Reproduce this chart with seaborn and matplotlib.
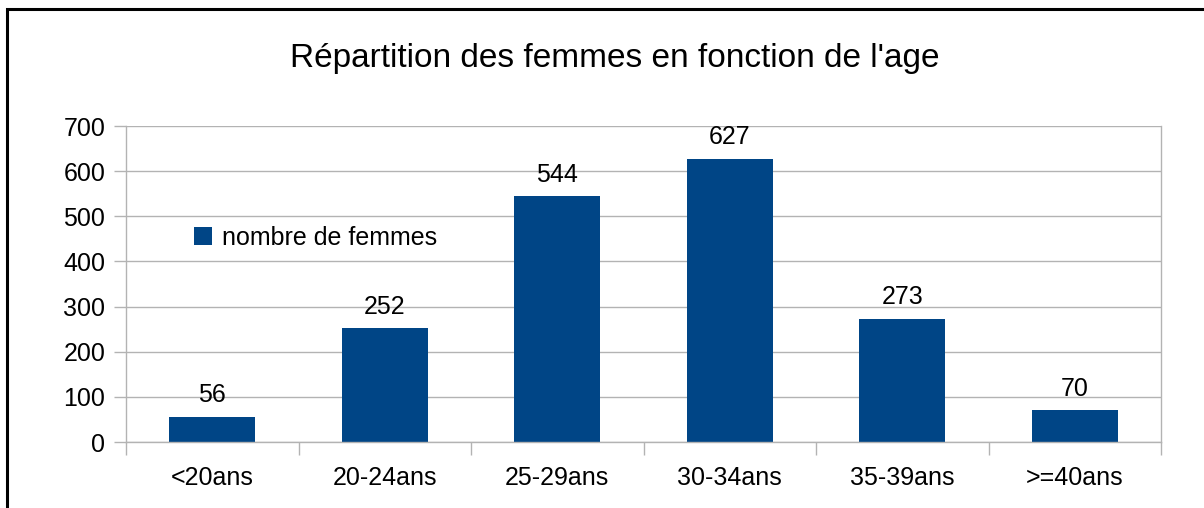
import matplotlib
matplotlib.use("Agg")
import matplotlib.pyplot as plt
import seaborn as sns
import pandas as pd
from matplotlib.patches import Rectangle

categories = ["<20ans", "20-24ans", "25-29ans", "30-34ans", "35-39ans", ">=40ans"]
values = [56, 252, 544, 627, 273, 70]
series_name = "nombre de femmes"
title = "Répartition des femmes en fonction de l'age"

df = pd.DataFrame({"age": categories, "n": values})

sns.set_theme(style="white")
plt.rcParams["font.family"] = ["Liberation Sans", "DejaVu Sans"]
plt.rcParams["text.color"] = "black"
plt.rcParams["xtick.labelcolor"] = "black"
plt.rcParams["ytick.labelcolor"] = "black"

bar_color = "#004586"
grey = "#b3b3b3"
fs = 18

fig = plt.figure(figsize=(12.04, 5.08), dpi=100)
ax = fig.add_axes([126 / 1204, 1 - 442 / 508, 1035 / 1204, 316 / 508])

sns.barplot(data=df, x="age", y="n", color=bar_color, width=0.5,
            saturation=1, label=series_name, linewidth=0, ax=ax)

ax.set_ylim(0, 700)
ax.set_xlim(-0.5, len(categories) - 0.5)
ax.set_yticks(range(0, 701, 100))
ax.yaxis.grid(True, color=grey, linewidth=1)
ax.set_axisbelow(True)
ax.set_xlabel("")
ax.set_ylabel("")

for side in ["left", "bottom", "right"]:
    ax.spines[side].set_visible(True)
    ax.spines[side].set_color(grey)
    ax.spines[side].set_linewidth(1)
ax.spines["top"].set_visible(False)

# ticks between categories
ax.set_xticks([i - 0.5 for i in range(len(categories) + 1)], minor=True)
ax.tick_params(axis="x", which="minor", length=9, width=1, color=grey, bottom=True)
ax.tick_params(axis="x", which="major", length=0, labelsize=fs, pad=17)
ax.tick_params(axis="y", length=9, width=1, color=grey, left=True, labelsize=fs, pad=6)

for c in ax.containers:
    ax.bar_label(c, labels=[str(v) for v in values], padding=7, fontsize=fs, color="black")

leg = ax.legend(loc="center left", bbox_to_anchor=(0.044, 0.646), frameon=False,
                fontsize=fs, handlelength=0.7, handleheight=0.7, handletextpad=0.4)

fig.text(615 / 1204, 1 - 58 / 508, title, ha="center", va="center", fontsize=24)

# outer frame
fig.patches.append(Rectangle((7 / 1204, -0.1), 1.2, 1 - 9 / 508 + 0.1,
                             transform=fig.transFigure, fill=False,
                             edgecolor="black", linewidth=2.2))

fig.savefig("out.png", dpi=100)
